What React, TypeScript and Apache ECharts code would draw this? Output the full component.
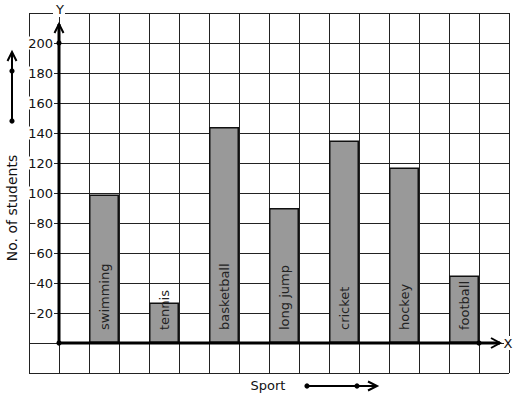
import React, { useEffect, useRef } from 'react';
import * as echarts from 'echarts';

const categories = ['swimming', 'tennis', 'basketball', 'long jump', 'cricket', 'hockey', 'football'];
const students = [99, 27, 144, 90, 135, 117, 45];
const yMin = -20;
const yMax = 220;
const yStep = 20;
const yLabelMax = 200;
const xAxisName = 'Sport';
const yAxisName = 'No. of students';

export default function App() {
  const ref = useRef<HTMLDivElement>(null);
  useEffect(() => {
    const chart = echarts.init(ref.current!, null, { renderer: 'svg' });
    const font = 'DejaVu Sans';
    const lineC = '#222';
    const ink = '#111';
    const GL = 29, GT = 13, GW = 480, GH = 360;
    chart.setOption({
      animation: false,
      textStyle: { fontFamily: font },
      grid: [
        { left: GL, top: GT, width: GW, height: GH },
        { left: GL + 45, top: GT, width: GW - 60, height: GH },
      ],
      xAxis: [
        {
          type: 'value', gridIndex: 0, min: 0, max: 16, interval: 1,
          axisLine: { show: false }, axisTick: { show: false }, axisLabel: { show: false },
          splitLine: { show: true, lineStyle: { color: lineC, width: 1 } },
        },
        {
          type: 'category', gridIndex: 1, data: categories, show: false,
        },
      ],
      yAxis: [
        {
          type: 'value', gridIndex: 0, min: yMin, max: yMax, interval: yStep,
          axisLine: { show: false }, axisTick: { show: false },
          splitLine: { show: true, lineStyle: { color: lineC, width: 1 } },
          axisLabel: {
            inside: true, margin: 25, align: 'right', fontSize: 13, color: ink, fontFamily: font,
            formatter: (v: number) => (v > 0 && v <= yLabelMax ? String(v) : ''),
            backgroundColor: '#fff', padding: [0, 1],
          },
        },
        {
          type: 'value', gridIndex: 1, min: yMin, max: yMax, interval: yStep, show: false,
          splitLine: { show: false },
        },
      ],
      series: [
        {
          type: 'bar', xAxisIndex: 1, yAxisIndex: 1, data: students, barWidth: 30,
          itemStyle: { color: '#999999', borderColor: ink, borderWidth: 1.5 },
          label: {
            show: true, position: 'insideBottom', rotate: 90, align: 'left', verticalAlign: 'middle',
            distance: 13, formatter: '{b}', fontSize: 13, color: '#222', fontFamily: font,
          },
        },
      ],
    });

    const p = (x: number, y: number) => chart.convertToPixel({ gridIndex: 0 } as any, [x, y]) as number[];
    const o = p(1, 0);
    const y200 = p(1, yLabelMax);
    const xEnd = p(15, 0);
    const top = p(1, yMax);
    const right = p(16, 0);
    const lw = 3;
    const black = { stroke: '#000', lineWidth: lw, fill: 'none' };
    const thin = { stroke: '#000', lineWidth: 2, fill: 'none' };
    const dot = (cx: number, cy: number, r = 2.6) => ({ type: 'circle', shape: { cx, cy, r }, style: { fill: '#000' }, z: 110 });
    const yTipY = top[1] + 11;
    const xTipX = right[0] - 9;
    const ox = o[0], oy = o[1];
    chart.setOption({
      graphic: [
        // Y axis
        { type: 'line', shape: { x1: ox, y1: oy, x2: ox, y2: yTipY }, style: black, z: 100 },
        { type: 'polyline', shape: { points: [[ox - 4.5, yTipY + 9], [ox, yTipY], [ox + 4.5, yTipY + 9]] }, style: { ...black, lineWidth: 2 }, z: 100 },
        dot(ox, y200[1]),
        // X axis
        { type: 'line', shape: { x1: ox, y1: oy, x2: xTipX, y2: oy }, style: black, z: 100 },
        { type: 'polyline', shape: { points: [[xTipX - 9, oy - 5], [xTipX, oy], [xTipX - 9, oy + 5]] }, style: { ...black, lineWidth: 2 }, z: 100 },
        dot(ox, oy),
        dot(xEnd[0], oy),
        // Y letter
        { type: 'rect', shape: { x: ox - 6, y: top[1] - 10, width: 12, height: 14 }, style: { fill: '#fff' }, z: 100 },
        { type: 'text', x: ox + 1, y: top[1] - 4, style: { text: 'Y', fill: ink, font: `13px "${font}"`, align: 'center', verticalAlign: 'middle' }, z: 101 },
        // X letter
        { type: 'rect', shape: { x: right[0] - 5, y: oy - 7, width: 10, height: 14 }, style: { fill: '#fff' }, z: 100 },
        { type: 'text', x: right[0] - 1, y: oy, style: { text: 'X', fill: ink, font: `13px "${font}"`, align: 'center', verticalAlign: 'middle' }, z: 101 },
        // left decorative arrow
        { type: 'line', shape: { x1: 12, y1: 121, x2: 12, y2: 52 }, style: thin, z: 100 },
        { type: 'polyline', shape: { points: [[7.5, 61], [12, 52], [16.5, 61]] }, style: thin, z: 100 },
        dot(12, 71),
        dot(12, 121),
        // bottom decorative arrow
        { type: 'line', shape: { x1: 307, y1: 386, x2: 377, y2: 386 }, style: thin, z: 100 },
        { type: 'polyline', shape: { points: [[368, 381.5], [377, 386], [368, 390.5]] }, style: thin, z: 100 },
        dot(307, 386),
        dot(357, 386),
        // axis names
        { type: 'text', x: 268, y: 385, style: { text: xAxisName, fill: ink, font: `13px "${font}"`, align: 'center', verticalAlign: 'middle' }, z: 101 },
        { type: 'text', x: 12, y: 208, rotation: Math.PI / 2, style: { text: yAxisName, fill: ink, font: `14px "${font}"`, align: 'center', verticalAlign: 'middle' }, z: 101 },
      ],
    });
    return () => chart.dispose();
  }, []);
  return <div ref={ref} style={{ width: 517, height: 399, position: 'absolute', left: 0, top: 0, background: '#fff' }} />;
}
